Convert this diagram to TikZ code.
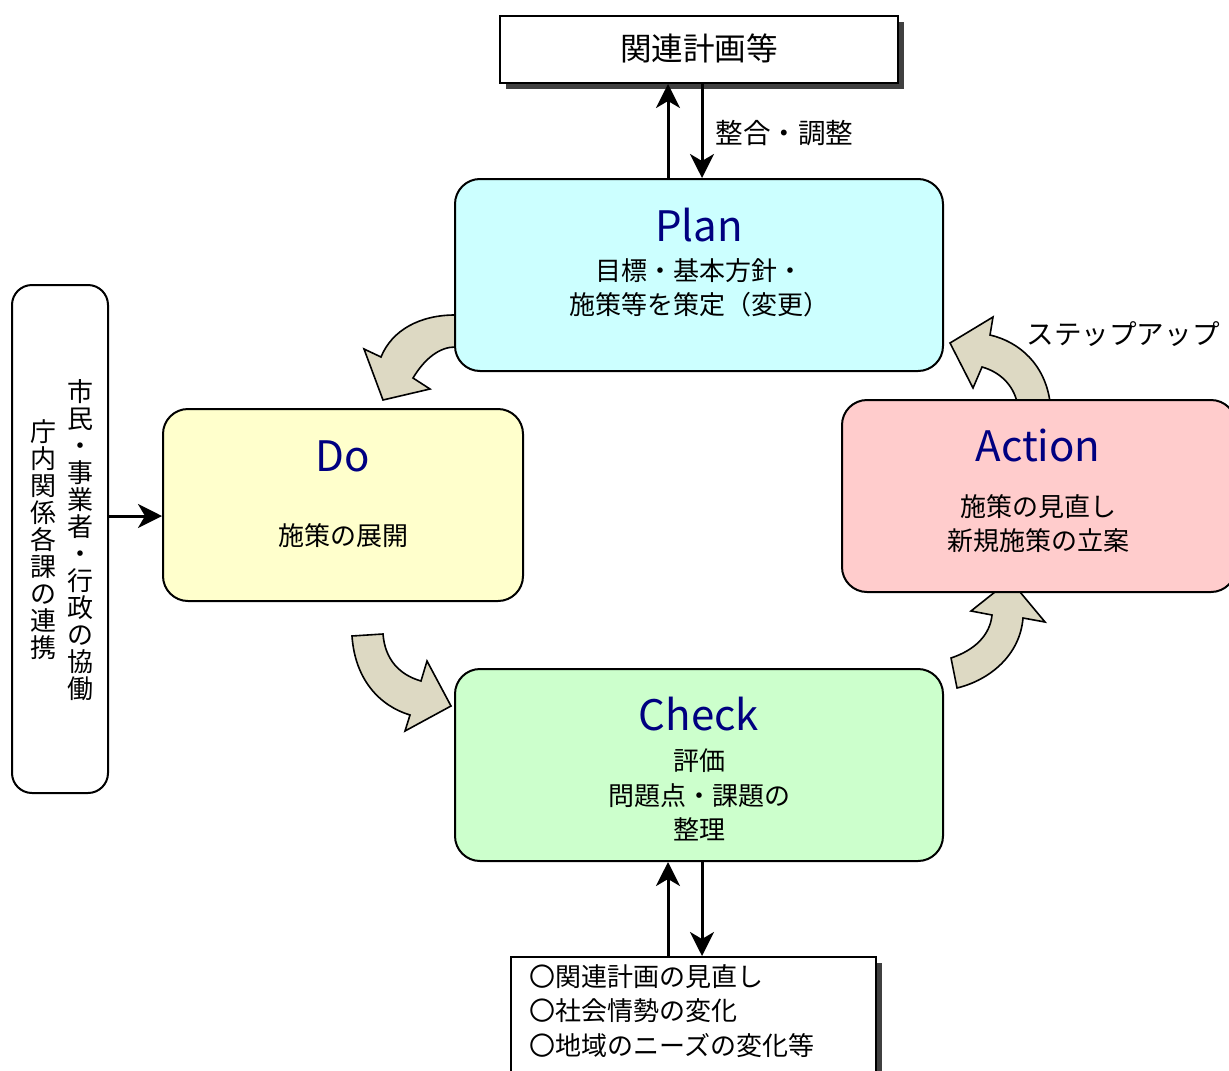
\documentclass[tikz,border=0pt]{standalone}
\usepackage{fontspec}
\setmainfont{Noto Sans CJK JP}
\usetikzlibrary{arrows.meta,shadows,calc}
\definecolor{planfill}{HTML}{CCFFFF}
\definecolor{dofill}{HTML}{FFFFCC}
\definecolor{actfill}{HTML}{FFCCCC}
\definecolor{chkfill}{HTML}{CCFFCC}
\definecolor{bafill}{HTML}{DDD9C3}
\definecolor{ttl}{HTML}{000080}
\tikzset{
  phase/.style={draw=black,line width=1pt,rounded corners=12.5pt,inner sep=0pt},
  sqbox/.style={draw=black,line width=1pt,fill=white,inner sep=0pt,
     drop shadow={shadow xshift=2.8pt,shadow yshift=-2.8pt,fill=black!75,opacity=1}},
  ttltext/.style={text=ttl,font=\fontsize{21pt}{25pt}\selectfont,inner sep=0pt},
  bodytext/.style={font=\fontsize{13pt}{17pt}\selectfont,inner sep=0pt},
  arr/.style={line width=1.5pt,-{Stealth[length=12pt,width=12pt,inset=3.5pt]}},
  blockarr/.style={fill=bafill,draw=black,line width=0.8pt,line join=miter},
}
\begin{document}
\begin{tikzpicture}[x=0.5pt,y=-0.5pt]
\useasboundingbox (0,0) rectangle (1229,1070);
\clip (0,0) rectangle (1229,1070);
\fill[white] (0,0) rectangle (1229,1070);

% curved block arrows (drawn first, boxes cover their ends)
\draw[blockarr] (455,315) .. controls (420,315) and (392,330) .. (381,357) -- (364,349) -- (383,400) -- (430,389) -- (413,378) .. controls (425,358) and (440,347) .. (455,347) -- cycle;
\draw[blockarr] (352,636) .. controls (355,680) and (380,706) .. (410,715) -- (405,731) -- (451,706) -- (427,661) -- (421,681) .. controls (400,675) and (385,660) .. (383,634) -- cycle;
\draw[blockarr] (957,688) .. controls (990,680) and (1020,655) .. (1023,618) -- (1045,622) -- (1010,580) -- (971,611) -- (992,615) .. controls (990,635) and (975,650) .. (951,658) -- cycle;
\draw[blockarr] (1050,402) .. controls (1045,365) and (1020,342) .. (990,335) -- (993,317) -- (950,343) -- (973,388) -- (982,367) .. controls (1000,372) and (1013,385) .. (1017,402) -- cycle;

% boxes
\node[sqbox,minimum width=199pt,minimum height=33.5pt] (rel) at (699,49.5) {};
\node[font=\fontsize{15.8pt}{18pt}\selectfont,inner sep=0pt] (reltext) at (699,48) {関連計画等};

\node[phase,fill=planfill,minimum width=244pt,minimum height=96pt] (plan) at (699,275) {};
\node[ttltext] (plantitle) at (699,225) {Plan};
\node[bodytext] (plan1) at (699,271) {目標・基本方針・};
\node[bodytext] (plan2) at (699,305) {施策等を策定（変更）};

\node[phase,fill=dofill,minimum width=180pt,minimum height=96pt] (do) at (343,505) {};
\node[ttltext] (dotitle) at (343,456) {Do};
\node[bodytext] (do1) at (343,536) {施策の展開};

\node[phase,fill=actfill,minimum width=197pt,minimum height=96pt] (act) at (1039,496) {};
\node[ttltext] (acttitle) at (1038,445) {Action};
\node[bodytext] (act1) at (1038,507) {施策の見直し};
\node[bodytext] (act2) at (1038,541) {新規施策の立案};

\node[phase,fill=chkfill,minimum width=244pt,minimum height=96pt] (chk) at (699,765) {};
\node[ttltext] (chktitle) at (699,714) {Check};
\node[bodytext] (chk1) at (699,761) {評価};
\node[bodytext] (chk2) at (699,796) {問題点・課題の};
\node[bodytext] (chk3) at (699,829) {整理};

\node[sqbox,minimum width=182.5pt,minimum height=62pt] (bot) at (693.5,1019) {};
\node[bodytext,anchor=west] (bot1) at (529,977) {〇関連計画の見直し};
\node[bodytext,anchor=west] (bot2) at (529,1011) {〇社会情勢の変化};
\node[bodytext,anchor=west] (bot3) at (529,1046) {〇地域のニーズの変化等};

\node[draw=black,line width=1pt,rounded corners=10pt,fill=white,minimum width=48pt,minimum height=254pt,inner sep=0pt] (left) at (60,539) {};
\node[bodytext,align=center,font=\fontsize{13pt}{13.5pt}\selectfont] (leftA) at (80,540) {市\\民\\・\\事\\業\\者\\・\\行\\政\\の\\協\\働};
\node[bodytext,align=center,font=\fontsize{13pt}{13.5pt}\selectfont] (leftB) at (43,540) {庁\\内\\関\\係\\各\\課\\の\\連\\携};

% labels
\node[font=\fontsize{13.8pt}{16pt}\selectfont,inner sep=0pt,anchor=west] (adj) at (715,133) {整合・調整};
\node[font=\fontsize{13.8pt}{16pt}\selectfont,inner sep=0pt] (stepup) at (1123,334) {ステップアップ};

% connectors
\draw[arr] ([xshift=-15.5pt]plan.north) -- ([xshift=-15.5pt]rel.south);
\draw[arr] ([xshift=1.5pt]rel.south) -- ([xshift=1.5pt]plan.north);
\draw[arr] ([xshift=-15.5pt]chk.south |- bot.north) -- ([xshift=-15.5pt]chk.south);
\draw[arr] ([xshift=1.5pt]chk.south) -- ([xshift=1.5pt]chk.south |- bot.north);
\draw[arr] ([yshift=-5.5pt]do.west -| left.east) -- ([yshift=-5.5pt]do.west);
\end{tikzpicture}
\end{document}
